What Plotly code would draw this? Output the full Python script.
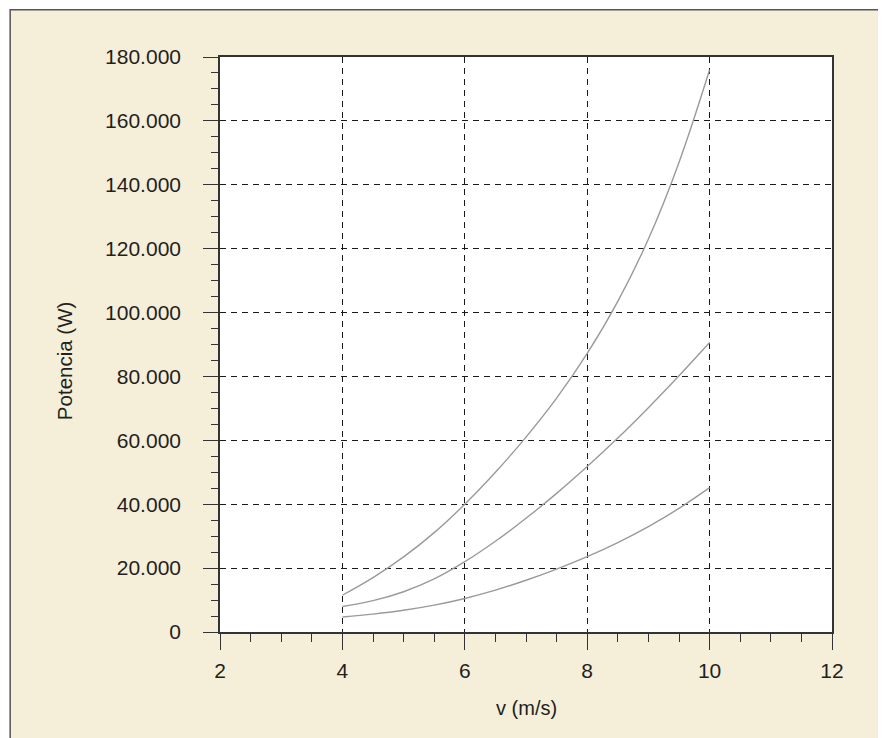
import plotly.graph_objects as go

# Data (v in m/s, power in W)
v = [4, 4.5, 5, 5.5, 6, 6.5, 7, 7.5, 8, 8.5, 9, 9.5, 10]
p_top = [11500, 17000, 23500, 31100, 40000, 50000, 61000, 73200, 87200, 103500, 123000, 147000, 176000]
p_mid = [8000, 9800, 12600, 16600, 22000, 28400, 35600, 43400, 51800, 60700, 70200, 80200, 90600]
p_low = [4700, 5600, 6800, 8400, 10500, 13100, 16200, 19700, 23600, 28000, 33000, 38700, 45200]

x_title = "v (m/s)"
y_title = "Potencia (W)"

# The page body adds an 8px offset to the figure.
OFF = 8
W, H = 886 - OFF, 738 - OFF
ML, MT = 220 - OFF, 57.3 - OFF
MR = W - (832.5 - OFF)
MB = H - (631.7 - OFF)
PW, PH = W - ML - MR, H - MT - MB

def px_x(px):
    return (px - OFF - ML) / PW

def px_y(py):
    return (H - MB - (py - OFF)) / PH

FONT = "Liberation Sans, Arial, Helvetica, sans-serif"
INK = "#231f20"
LINE = "#333333"
BEIGE = "#f5eed9"

fig = go.Figure()
for ys in (p_top, p_mid, p_low):
    fig.add_trace(go.Scatter(
        x=v, y=ys, mode="lines", line=dict(color="#9a9a9a", width=1.4, shape="spline"),
        showlegend=False, hoverinfo="skip"))

axis_common = dict(
    showline=True, linecolor=LINE, linewidth=1.6, mirror=True,
    ticks="outside", tickcolor=LINE, tickwidth=1.4,
    showgrid=True, gridcolor="#1a1a1a", gridwidth=1.2, griddash="6px,5px",
    zeroline=False, tickfont=dict(family=FONT, size=21, color=INK),
)

fig.update_xaxes(
    range=[2, 12], tick0=2, dtick=2, ticklen=16, ticklabelstandoff=3,
    minor=dict(ticks="outside", dtick=0.5, ticklen=8, tickcolor=LINE, tickwidth=1.4, showgrid=False),
    **axis_common)
fig.update_yaxes(
    range=[0, 180000], tick0=0, dtick=20000, ticklen=15, tickformat=",d", ticklabelstandoff=18,
    minor=dict(ticks="outside", dtick=5000, ticklen=7, tickcolor=LINE, tickwidth=1.4, showgrid=False),
    **axis_common)

fig.update_layout(
    width=W, height=H,
    margin=dict(l=ML, r=MR, t=MT, b=MB, pad=0),
    separators=",.",
    paper_bgcolor=BEIGE, plot_bgcolor="white",
    font=dict(family=FONT, size=20, color=INK),
    shapes=[
        # white strips outside the outer frame (left and top)
        dict(type="rect", xref="paper", yref="paper", layer="below",
             x0=px_x(0), x1=px_x(10), y0=px_y(760), y1=px_y(0),
             fillcolor="white", line=dict(width=0)),
        dict(type="rect", xref="paper", yref="paper", layer="below",
             x0=px_x(0), x1=px_x(900), y0=px_y(10), y1=px_y(0),
             fillcolor="white", line=dict(width=0)),
        # outer frame border
        dict(type="rect", xref="paper", yref="paper", layer="below",
             x0=px_x(10), x1=px_x(884.5), y0=px_y(760), y1=px_y(10),
             fillcolor="rgba(0,0,0,0)", line=dict(color="#555555", width=1.5)),
        dict(type="rect", xref="paper", yref="paper", layer="below",
             x0=0, x1=1, y0=0, y1=1, fillcolor="white", line=dict(width=0)),
    ],
    annotations=[
        dict(text=y_title, xref="paper", yref="paper", x=px_x(64), y=px_y(361),
             xanchor="center", yanchor="middle", textangle=-90, showarrow=False,
             font=dict(family=FONT, size=20.5, color=INK)),
        dict(text=x_title, xref="paper", yref="paper", x=px_x(527), y=px_y(708),
             xanchor="center", yanchor="middle", showarrow=False,
             font=dict(family=FONT, size=20, color=INK)),
    ],
)

fig.write_html("out.html")
